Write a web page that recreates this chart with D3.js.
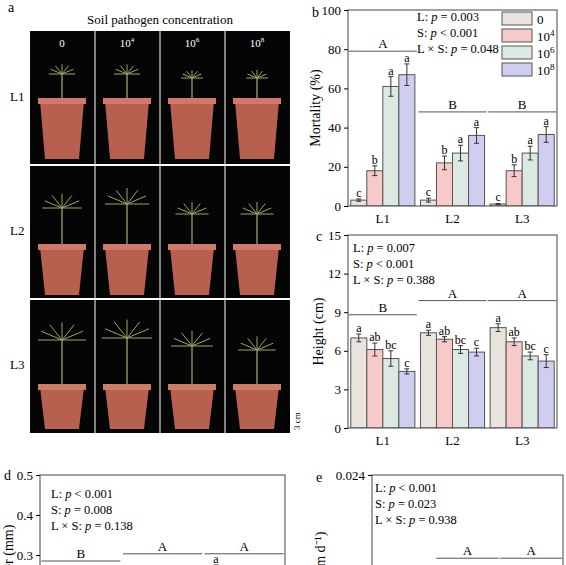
<!DOCTYPE html>
<html><head><meta charset="utf-8">
<script src="https://cdn.jsdelivr.net/npm/d3@7"></script>
<style>body{margin:0;background:#fff}svg{display:block;font-family:"Liberation Serif",serif}</style>
</head><body>
<script>
const groups = ["L1","L2","L3"];
const concs = ["0","10⁴","10⁶","10⁸"];
const concSup = ["","4","6","8"];
const colors = ["#e9e3de","#f7c9c9","#dce8e2","#d0cef0"];
// panel b mortality
const mortVal = [[3,18,61,67],[3,22,27,36],[1,18,27,36.5]];
const mortErr = [[0.6,2.5,5,5.5],[1,3.5,4,4],[0.3,3,3.5,4]];
const mortLet = [["c","b","a","a"],["c","b","a","a"],["c","b","a","a"]];
const mortGrp = [["A",79],["B",48],["B",48]];
// panel c height
const hVal = [[7.0,6.1,5.4,4.4],[7.4,6.9,6.1,5.9],[7.8,6.7,5.6,5.2]];
const hErr = [[0.3,0.5,0.6,0.2],[0.2,0.2,0.3,0.3],[0.3,0.3,0.3,0.5]];
const hLet = [["a","ab","bc","c"],["a","ab","bc","c"],["a","ab","bc","c"]];
const hGrp = [["B",8.8],["A",9.9],["A",9.9]];
// panel d diameter
const dVal = [[0.22,0.21,0.2,0.19],[0.25,0.24,0.23,0.22],[0.265,0.25,0.24,0.23]];
const dErr = [[0.01,0.01,0.01,0.01],[0.01,0.01,0.01,0.01],[0.01,0.01,0.01,0.01]];
const dLet = [["","","",""],["","","",""],["a","","",""]];
const dGrp = [["B",0.285],["A",0.303],["A",0.303]];
// panel e growth rate
const eVal = [[0.0120,0.0115,0.0110,0.0105],[0.0130,0.0125,0.0120,0.0115],[0.0155,0.0146,0.0135,0.0130]];
const eErr = [[0.0004,0.0004,0.0004,0.0004],[0.0004,0.0004,0.0004,0.0004],[0.0005,0.0004,0.0004,0.0004]];
const eLet = [["","","",""],["a","","",""],["a","a","b",""]];
const eGrp = [["B",0.0150],["A",0.0176],["A",0.0176]];

const svg = d3.select("body").append("svg").attr("width",566).attr("height",565);

function panel(o){
  const g = svg.append("g");
  const x0 = d3.scaleBand().domain(groups).range([o.x0,o.x1]).paddingInner(0.08).paddingOuter(0.04);
  const x1 = d3.scaleBand().domain(d3.range(4)).range([0,x0.bandwidth()]);
  const y = d3.scaleLinear().domain(o.dom).range([o.yb,o.yt]);
  const clipId = "c"+o.label;
  svg.append("clipPath").attr("id",clipId).append("rect").attr("x",o.x0).attr("y",o.yt).attr("width",o.x1-o.x0).attr("height",o.yb-o.yt);
  const pg = g.append("g").attr("clip-path",`url(#${clipId})`);
  groups.forEach((gr,i)=>{
    o.vals[i].forEach((v,j)=>{
      const bx = x0(gr)+x1(j);
      pg.append("rect").attr("x",bx).attr("y",y(v)).attr("width",x1.bandwidth()).attr("height",y(o.dom[0])-y(v))
        .attr("fill",colors[j]).attr("stroke","#555").attr("stroke-width",1);
      const cx = bx+x1.bandwidth()/2, e=o.errs[i][j];
      pg.append("path").attr("d",`M${cx},${y(v-e)}V${y(v+e)}M${cx-2.5},${y(v-e)}h5M${cx-2.5},${y(v+e)}h5`).attr("stroke","#333").attr("fill","none");
      if(o.lets[i][j]) g.append("text").attr("x",cx).attr("y",y(v+e)-2).attr("text-anchor","middle").attr("font-size",12).text(o.lets[i][j]);
    });
    const [L,lv]=o.grp[i];
    g.append("line").attr("x1",x0(gr)-2).attr("x2",x0(gr)+x0.bandwidth()+2).attr("y1",y(lv)).attr("y2",y(lv)).attr("stroke","#555");
    g.append("text").attr("x",x0(gr)+x0.bandwidth()/2).attr("y",y(lv)-3).attr("text-anchor","middle").attr("font-size",13).text(L);
  });
  g.append("rect").attr("x",o.x0).attr("y",o.yt).attr("width",o.x1-o.x0).attr("height",o.yb-o.yt).attr("fill","none").attr("stroke","#444");
  const ya = g.append("g").attr("transform",`translate(${o.x0},0)`).call(d3.axisLeft(y).tickValues(o.ticks).tickFormat(o.fmt).tickSizeOuter(0).tickSize(4));
  ya.select(".domain").remove();
  ya.selectAll("text").attr("font-size",13).attr("font-family","Liberation Serif");
  if(o.xaxis){
    const xa = g.append("g").attr("transform",`translate(0,${o.yb})`).call(d3.axisBottom(x0).tickSize(0).tickPadding(8));
    xa.select(".domain").remove();
    xa.selectAll("text").attr("font-size",13).attr("font-family","Liberation Serif");
  }
  g.append("text").attr("x",o.lx).attr("y",o.ly).attr("font-size",14).text(o.label);
  const tc = o.tcy!==undefined?o.tcy:(o.yt+o.yb)/2;
  g.append("text").attr("transform",`translate(${o.ytx},${tc}) rotate(-90)`).attr("text-anchor","middle").attr("font-size",14).text(o.ytitle);
  o.pvals.forEach((p,k)=>{
    const t=g.append("text").attr("x",o.px).attr("y",o.py+k*16).attr("font-size",12.5);
    t.append("tspan").text(p[0]);t.append("tspan").attr("font-style","italic").text("p");t.append("tspan").text(p[1]);
  });
  return {x0,y};
}

panel({label:"b",x0:348,x1:557,yt:10,yb:206,dom:[0,100],ticks:[0,20,40,60,80,100],fmt:d3.format("d"),
  vals:mortVal,errs:mortErr,lets:mortLet,grp:mortGrp,xaxis:true,lx:312,ly:17,ytitle:"Mortality (%)",ytx:320,
  pvals:[["L: "," = 0.003"],["S: "," < 0.001"],["L × S: "," = 0.048"]],px:417,py:21});
concs.forEach((c,j)=>{
  svg.append("rect").attr("x",502).attr("y",12+j*17).attr("width",30).attr("height",13).attr("fill",colors[j]).attr("stroke","#555");
  const t=svg.append("text").attr("x",537).attr("y",24+j*17).attr("font-size",13).text(c==="0"?"0":"10");
  if(concSup[j]) t.append("tspan").attr("dy",-5).attr("font-size",9).text(concSup[j]);
});
panel({label:"c",x0:348,x1:557,yt:235,yb:428,dom:[0,15],ticks:[0,3,6,9,12,15],fmt:d3.format("d"),
  vals:hVal,errs:hErr,lets:hLet,grp:hGrp,xaxis:true,lx:316,ly:241,ytitle:"Height (cm)",ytx:323,
  pvals:[["L: "," = 0.007"],["S: "," < 0.001"],["L × S: "," = 0.388"]],px:353,py:252});
panel({label:"d",x0:40,x1:285,yt:475,yb:675,dom:[0,0.5],ticks:[0.3,0.4,0.5],fmt:d3.format(".1f"),
  vals:dVal,errs:dErr,lets:dLet,grp:dGrp,xaxis:false,lx:4,ly:480,ytitle:"Diameter (mm)",ytx:13,tcy:568,
  pvals:[["L: "," < 0.001"],["S: "," = 0.008"],["L × S: "," = 0.138"]],px:51,py:498});
panel({label:"e",x0:372,x1:563,yt:475,yb:787,dom:[0,0.024],ticks:[0.016,0.024],fmt:d3.format(".3f"),
  vals:eVal,errs:eErr,lets:eLet,grp:eGrp,xaxis:false,lx:316,ly:482,ytitle:"Growth rate (cm d⁻¹)",ytx:325,tcy:590,
  pvals:[["L: "," < 0.001"],["S: "," = 0.023"],["L × S: "," = 0.938"]],px:375,py:492});

// panel a: photo panel rendered schematically
const pa = svg.append("g");
pa.append("text").attr("x",8).attr("y",12).attr("font-size",14).text("a");
pa.append("text").attr("x",160).attr("y",24).attr("text-anchor","middle").attr("font-size",13).text("Soil pathogen concentration");
const cols=[30,95,160,225,290], rows=[31,165,299,433];
pa.append("rect").attr("x",30).attr("y",31).attr("width",260).attr("height",402).attr("fill","#050505");
const plantH=[[24,24,20,20],[36,40,30,30],[44,46,38,34]];
rows.slice(0,3).forEach((ry,r)=>{
  pa.append("text").attr("x",10).attr("y",ry+70).attr("font-size",13).text("L"+(r+1));
  cols.slice(0,4).forEach((cx,c)=>{
    const mx=cx+32, top=ry+(r===0?70:r===1?82:88), bot=ry+(r===0?128:130);
    pa.append("path").attr("d",`M${mx-22},${top}L${mx+22},${top}L${mx+17},${bot}L${mx-17},${bot}Z`).attr("fill","#b8604f");
    pa.append("rect").attr("x",mx-24).attr("y",top-3).attr("width",48).attr("height",6).attr("fill","#cf7a68");
    const h=plantH[r][c];
    pa.append("line").attr("x1",mx).attr("x2",mx).attr("y1",top-3).attr("y2",top-3-h).attr("stroke","#8a8f55").attr("stroke-width",1.5);
    for(let k=0;k<7;k++){const a=-Math.PI+k*Math.PI/6;
      pa.append("line").attr("x1",mx).attr("y1",top-3-h).attr("x2",mx+Math.cos(a)*h*0.55).attr("y2",top-3-h+Math.sin(a)*h*0.4).attr("stroke","#9aa860").attr("stroke-width",1);}
    if(r===0) pa.append("text").attr("x",mx).attr("y",ry+16).attr("text-anchor","middle").attr("fill","#fff").attr("font-size",11)
       .text(c===0?"0":"10").append("tspan").attr("dy",-5).attr("font-size",7).text(concSup[c]);
  });
});
cols.slice(1,4).forEach(cx=>pa.append("line").attr("x1",cx).attr("x2",cx).attr("y1",31).attr("y2",433).attr("stroke","#fff").attr("stroke-width",1));
rows.slice(1,3).forEach(ry=>pa.append("line").attr("x1",30).attr("x2",290).attr("y1",ry).attr("y2",ry).attr("stroke","#fff").attr("stroke-width",2));
pa.append("line").attr("x1",289).attr("x2",289).attr("y1",410).attr("y2",433).attr("stroke","#000").attr("stroke-width",2);
pa.append("text").attr("transform","translate(300,421) rotate(-90)").attr("text-anchor","middle").attr("font-size",9).text("3 cm");
</script></body></html>
